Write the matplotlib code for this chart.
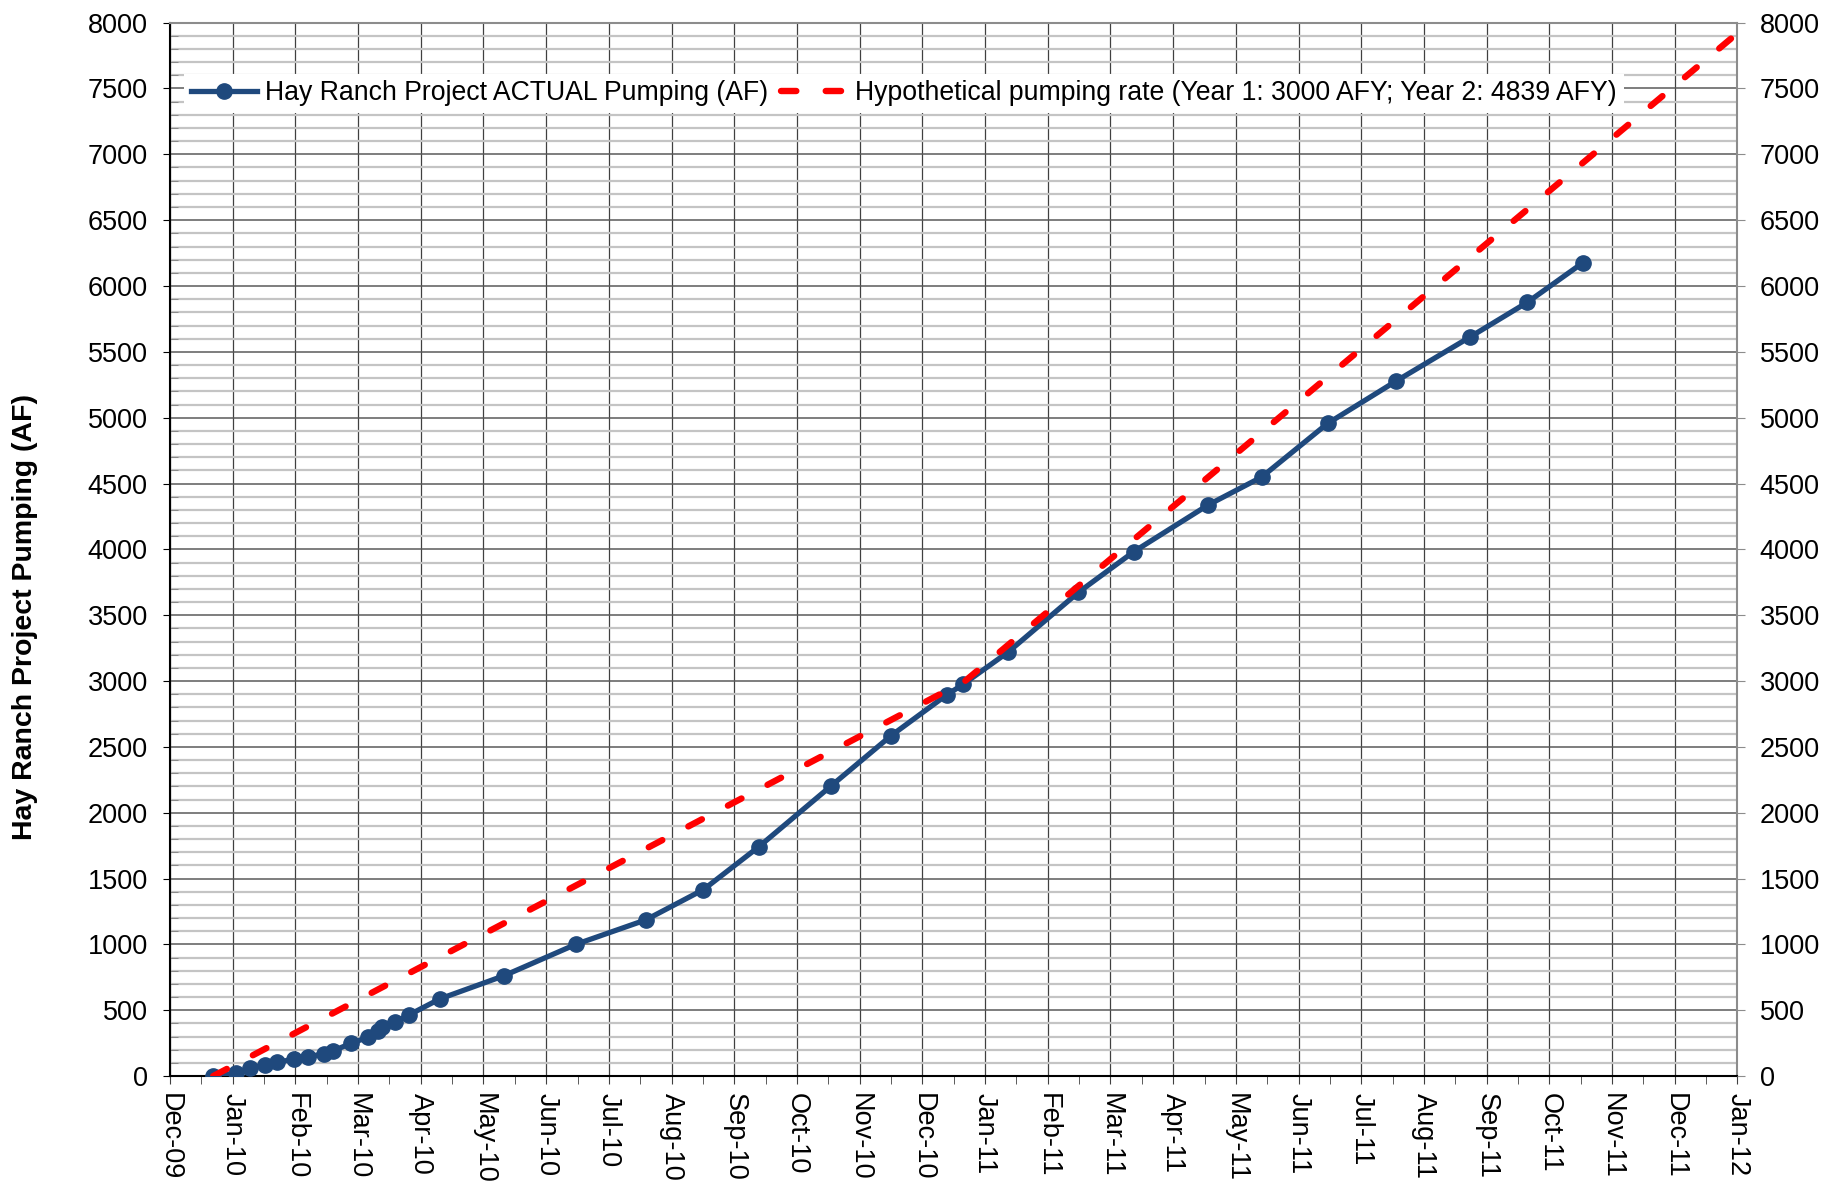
import numpy as np
import matplotlib
matplotlib.use('Agg')
import matplotlib.pyplot as plt
import matplotlib.dates as mdates

plt.rcParams['font.family'] = ['Liberation Sans', 'DejaVu Sans']

# actual cumulative pumping (AF)
actual_dates = np.array([
    '2009-12-22', '2010-01-02', '2010-01-09', '2010-01-16', '2010-01-22',
    '2010-01-30', '2010-02-06', '2010-02-14', '2010-02-18', '2010-02-27',
    '2010-03-07', '2010-03-12', '2010-03-14', '2010-03-20', '2010-03-27',
    '2010-04-11', '2010-05-12', '2010-06-16', '2010-07-20', '2010-08-17',
    '2010-09-13', '2010-10-18', '2010-11-16', '2010-12-13', '2010-12-21',
    '2011-01-12', '2011-02-15', '2011-03-14', '2011-04-19', '2011-05-15',
    '2011-06-16', '2011-07-19', '2011-08-24', '2011-09-21', '2011-10-18'],
    dtype='datetime64[D]')
actual_af = [0, 20, 62, 84, 105,
             127, 147, 168, 190, 249,
             294, 345, 370, 408, 464,
             586, 761, 1000, 1186, 1416,
             1743, 2204, 2584, 2894, 2974,
             3221, 3673, 3983, 4337, 4549,
             4956, 5275, 5611, 5876, 6177]

# hypothetical pumping (Year 1: 3000 AFY, Year 2: 4839 AFY)
hypo_dates = np.array(['2009-12-22', '2010-12-22', '2012-01-01'], dtype='datetime64[D]')
hypo_af = [0, 3000, 7920]

month_labels = ['Dec-09', 'Jan-10', 'Feb-10', 'Mar-10', 'Apr-10', 'May-10', 'Jun-10',
                'Jul-10', 'Aug-10', 'Sep-10', 'Oct-10', 'Nov-10', 'Dec-10', 'Jan-11',
                'Feb-11', 'Mar-11', 'Apr-11', 'May-11', 'Jun-11', 'Jul-11', 'Aug-11',
                'Sep-11', 'Oct-11', 'Nov-11', 'Dec-11', 'Jan-12']

x_start = mdates.date2num(np.datetime64('2009-12-01'))
x_end = mdates.date2num(np.datetime64('2012-01-01'))
step = (x_end - x_start) / (len(month_labels) - 1)
major_x = x_start + step * np.arange(len(month_labels))
minor_x = major_x[:-1] + step / 2

fs = 19.5
fig = plt.figure(figsize=(18.26, 11.86), dpi=100)
ax = fig.add_axes([0.0931, 0.0927, 0.8584, 0.8882])

ax.plot(actual_dates, actual_af, color='#1F497D', lw=3.8, marker='o', ms=11,
        label='Hay Ranch Project ACTUAL Pumping (AF)', zorder=3)
ax.plot(hypo_dates, hypo_af, color='#FF0000', lw=4.6, dashes=(2.4, 4.6),
        dash_capstyle='round', label='Hypothetical pumping rate (Year 1: 3000 AFY; Year 2: 4839 AFY)',
        zorder=4)

ax.set_xlim(x_start, x_end)
ax.set_ylim(0, 8000)
ax.set_xticks(major_x)
ax.set_xticklabels(month_labels, rotation=270, ha='center', va='top', fontsize=fs)
ax.set_xticks(minor_x, minor=True)
ax.set_yticks(np.arange(0, 8001, 500))
ax.set_yticks(np.arange(0, 8001, 100), minor=True)
ax.tick_params(axis='y', labelsize=fs, length=5, pad=11)
ax.tick_params(axis='y', which='minor', direction='in', length=6, color='#808080')
ax.tick_params(axis='x', which='both', direction='out', length=6, pad=6, color='#404040')

ax.grid(axis='y', which='minor', color='#c4c4c4', lw=1.6)
ax.grid(axis='y', which='major', color='#5a5a5a', lw=1.1)
ax.grid(axis='x', which='major', color='#404040', lw=0.9)
ax.set_axisbelow(True)

for s in ['left', 'bottom']:
    ax.spines[s].set_color('black')
    ax.spines[s].set_linewidth(1.5)
for s in ['right', 'top']:
    ax.spines[s].set_color('#8c8c8c')
    ax.spines[s].set_linewidth(1.5)

fig.text(0.0135, 0.48, 'Hay Ranch Project Pumping (AF)', rotation=90, fontsize=20.5,
         fontweight='bold', ha='center', va='center')

ax2 = ax.twinx()
ax2.set_ylim(0, 8000)
ax2.set_yticks(np.arange(0, 8001, 500))
ax2.tick_params(axis='y', labelsize=fs, length=6, pad=10, color='#8c8c8c')
for s in ax2.spines.values():
    s.set_visible(False)

leg = ax.legend(ncol=2, loc='center left', bbox_to_anchor=(0.009, 0.933), fontsize=19.2,
                frameon=True, facecolor='white', edgecolor='none', framealpha=1,
                fancybox=False, handlelength=2.5, handletextpad=0.3, columnspacing=0.45,
                borderpad=0.25, borderaxespad=0)

fig.savefig('out.png', dpi=100)
